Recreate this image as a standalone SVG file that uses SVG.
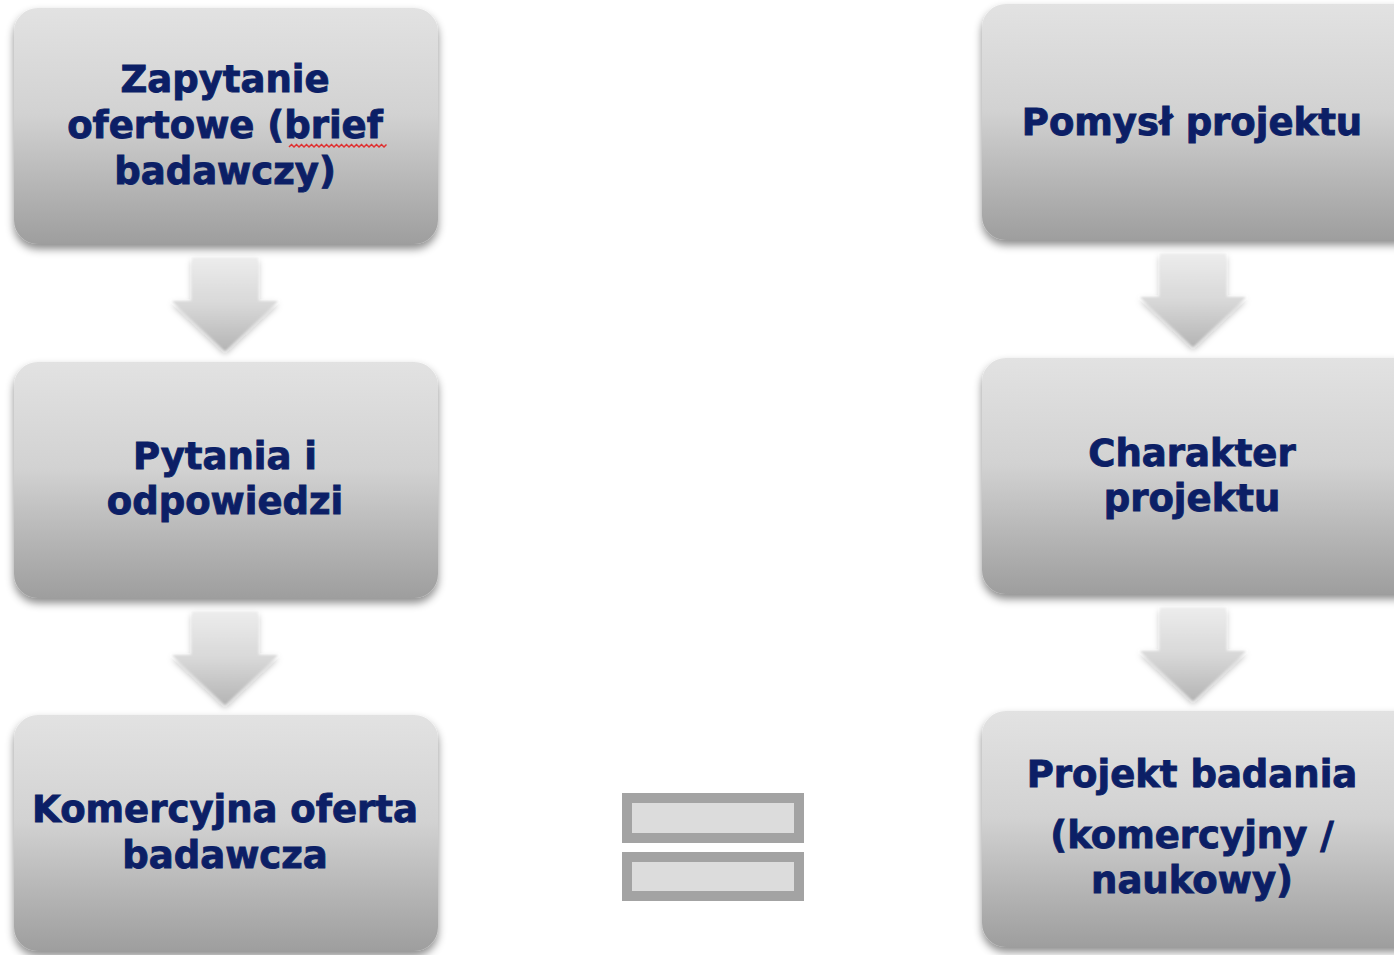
<svg xmlns="http://www.w3.org/2000/svg" width="1394" height="955" viewBox="0 0 1394 955">
  <defs>
    <linearGradient id="boxFill" x1="0" y1="0" x2="0" y2="1">
      <stop offset="0" stop-color="#e2e2e2"/>
      <stop offset="0.45" stop-color="#d2d2d2"/>
      <stop offset="1" stop-color="#9e9e9e"/>
    </linearGradient>
    <linearGradient id="arrowFill" x1="0" y1="0" x2="0" y2="1">
      <stop offset="0" stop-color="#ececec"/>
      <stop offset="0.5" stop-color="#d8d8d8"/>
      <stop offset="1" stop-color="#b4b4b4"/>
    </linearGradient>
    <filter id="shadow" x="-10%" y="-10%" width="120%" height="125%">
      <feDropShadow dx="0" dy="5" stdDeviation="4" flood-color="#000" flood-opacity="0.45"/>
    </filter>
    <filter id="soft" x="-20%" y="-20%" width="140%" height="150%">
      <feGaussianBlur stdDeviation="1.2"/>
      <feDropShadow dx="0" dy="3" stdDeviation="3" flood-color="#000" flood-opacity="0.3"/>
    </filter>
    <path id="arrow" d="M -33 0 H 33 V 43 H 53 L 0 93 L -53 43 H -33 Z"/>
  </defs>
  <style>
    .box { fill: url(#boxFill); filter: url(#shadow); }
    .lbl { font-family: "DejaVu Sans", Verdana, sans-serif; font-weight: bold; font-size: 37px; fill: #0c1f66; stroke: #0c1f66; stroke-width: 0.9; text-anchor: middle; }
    .arr { fill: url(#arrowFill); filter: url(#soft); }
    .eq { fill: #dcdcdc; stroke: #a3a3a3; stroke-width: 10; }
  </style>
  <rect width="1394" height="955" fill="#ffffff"/>

  <!-- flow arrows -->
  <g id="connectors">
    <use href="#arrow" class="arr" x="225" y="258"/>
    <use href="#arrow" class="arr" x="225" y="612"/>
    <use href="#arrow" class="arr" x="1193" y="254"/>
    <use href="#arrow" class="arr" x="1193" y="608"/>
  </g>

  <!-- left column -->
  <g id="zapytanie">
    <rect class="box" x="14" y="8" width="424" height="236" rx="24"/>
    <text class="lbl" x="225" y="92">Zapytanie</text>
    <text class="lbl" x="225" y="138">ofertowe (brief</text>
    <text class="lbl" x="225" y="184">badawczy)</text>
    <path d="M289 147 l2.5 -2.5 l2.5 2.5 l2.5 -2.5 l2.5 2.5 l2.5 -2.5 l2.5 2.5 l2.5 -2.5 l2.5 2.5 l2.5 -2.5 l2.5 2.5 l2.5 -2.5 l2.5 2.5 l2.5 -2.5 l2.5 2.5 l2.5 -2.5 l2.5 2.5 l2.5 -2.5 l2.5 2.5 l2.5 -2.5 l2.5 2.5 l2.5 -2.5 l2.5 2.5 l2.5 -2.5 l2.5 2.5 l2.5 -2.5 l2.5 2.5 l2.5 -2.5 l2.5 2.5 l2.5 -2.5 l2.5 2.5 l2.5 -2.5 l2.5 2.5 l2.5 -2.5 l2.5 2.5 l2.5 -2.5 l2.5 2.5 l2.5 -2.5 l2.5 2.5 l2.5 -2.5" fill="none" stroke="#e03030" stroke-width="1.5"/>
  </g>
  <g id="pytania">
    <rect class="box" x="14" y="362" width="424" height="236" rx="24"/>
    <text class="lbl" x="225" y="469">Pytania i</text>
    <text class="lbl" x="225" y="514">odpowiedzi</text>
  </g>
  <g id="oferta">
    <rect class="box" x="14" y="715" width="424" height="236" rx="24"/>
    <text class="lbl" x="225" y="822">Komercyjna oferta</text>
    <text class="lbl" x="225" y="868">badawcza</text>
  </g>

  <!-- equals sign -->
  <g id="equals">
    <rect class="eq" x="627" y="798" width="172" height="40"/>
    <rect class="eq" x="627" y="857" width="172" height="39"/>
  </g>

  <!-- right column -->
  <g id="pomysl">
    <rect class="box" x="982" y="4" width="440" height="236" rx="24"/>
    <text class="lbl" x="1192" y="135">Pomysł projektu</text>
  </g>
  <g id="charakter">
    <rect class="box" x="982" y="358" width="440" height="236" rx="24"/>
    <text class="lbl" x="1192" y="466">Charakter</text>
    <text class="lbl" x="1192" y="511">projektu</text>
  </g>
  <g id="projekt">
    <rect class="box" x="982" y="711" width="440" height="236" rx="24"/>
    <text class="lbl" x="1192" y="787">Projekt badania</text>
    <text class="lbl" x="1192" y="848">(komercyjny /</text>
    <text class="lbl" x="1192" y="893">naukowy)</text>
  </g>
</svg>
